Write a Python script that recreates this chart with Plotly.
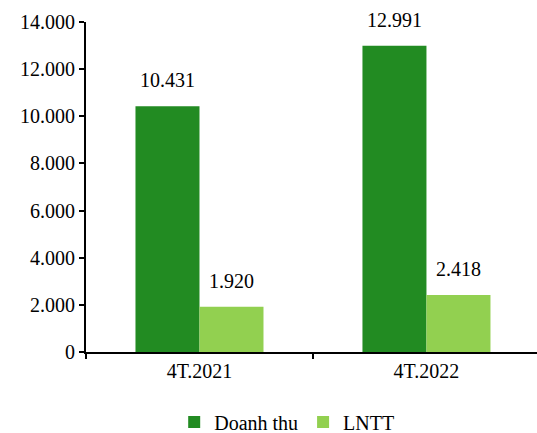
import plotly.graph_objects as go

# Revenue vs. profit before tax, first four months (billion VND)
categories = ["4T.2021", "4T.2022"]
doanh_thu = [10431, 12991]
lntt = [1920, 2418]
y_ticks = [0, 2000, 4000, 6000, 8000, 10000, 12000, 14000]

DARK = "#228B22"
LIGHT = "#92D050"
FONT = dict(family="Liberation Serif", size=20, color="black")
BARGAP = 0.436


def fmt(v):
    return f"{v:,}".replace(",", ".")


fig = go.Figure()
fig.add_trace(go.Bar(name="Doanh thu", x=categories, y=doanh_thu,
                     marker=dict(color=DARK, line=dict(width=0))))
fig.add_trace(go.Bar(name="LNTT", x=categories, y=lntt,
                     marker=dict(color=LIGHT, line=dict(width=0))))

# value labels above each bar, placed at the centre of its slot in the group
bar_w = (1 - BARGAP) / 2
for s_idx, series in enumerate([doanh_thu, lntt]):
    offset = (s_idx - 0.5) * bar_w
    for c_idx, v in enumerate(series):
        fig.add_annotation(x=c_idx + offset, y=v, xref="x", yref="y",
                           text=fmt(v), showarrow=False, yanchor="bottom",
                           yshift=13, font=FONT)

fig.update_layout(
    width=537, height=433,
    margin=dict(l=86, r=0, t=22, b=81, autoexpand=False),
    paper_bgcolor="white", plot_bgcolor="white",
    barmode="group", bargap=BARGAP, bargroupgap=0,
    separators=",.",
    font=FONT,
    showlegend=True,
    legend=dict(orientation="h", x=0.445, xanchor="center", y=-0.212,
                yanchor="middle", font=FONT, traceorder="normal",
                itemwidth=30, tracegroupgap=0),
    xaxis=dict(range=[-0.5, 1.487], showline=True, linecolor="black",
               linewidth=2, ticks="outside", tickson="boundaries",
               ticklen=5, tickwidth=2, tickcolor="black", showgrid=False,
               tickfont=FONT, fixedrange=True),
    yaxis=dict(range=[0, 14000], tickvals=y_ticks, tickformat=",.0f",
               showline=True, linecolor="black", linewidth=2,
               ticks="outside", ticklen=5, tickwidth=2, tickcolor="black",
               showgrid=False, zeroline=False, tickfont=FONT,
               fixedrange=True),
)

fig.write_html("out.html")
